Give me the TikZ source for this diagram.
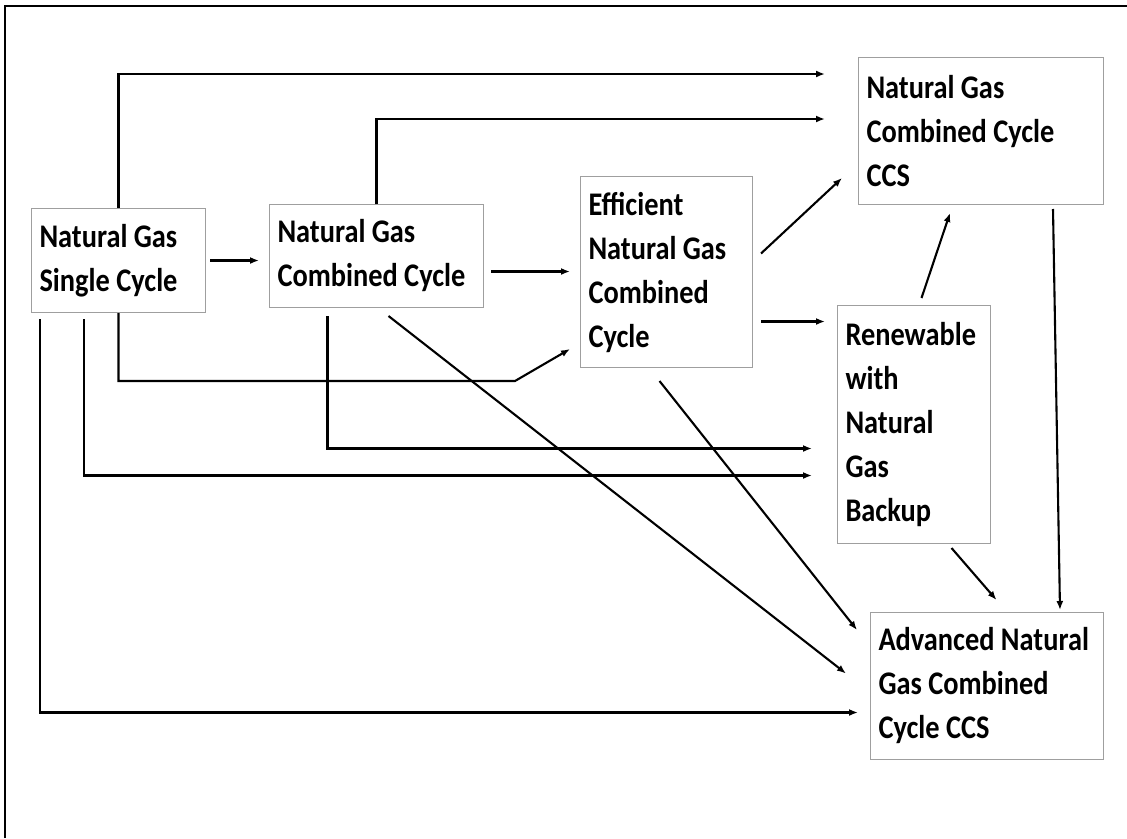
\documentclass[tikz,border=0pt]{standalone}
\usepackage{fontspec}
\setmainfont{Carlito}[FakeStretch=0.86]
\usetikzlibrary{arrows.meta,calc}
\tikzset{
	box/.style 2 args={draw=gray!75,line width=1pt,anchor=north west,text width=#1,minimum height=#2,inner xsep=8pt,inner ysep=0pt,align=flush left,font=\fontsize{33}{44}\selectfont\bfseries},
	arr/.style={-{Latex[length=9pt,width=7pt]},line width=2.1pt}
}
\begin{document}
\begin{tikzpicture}[x=1pt,y=-1pt]
	\useasboundingbox (0,0) rectangle (1127,838);
	\draw [line width=2.8pt] (5,838) -- (5,6) -- (1127,6);

	\node [box={158pt}{104pt}] (sc) at (31,208) {Natural Gas\\Single Cycle};
	\node [box={198pt}{103pt}] (ngcc) at (269,204) {Natural Gas\\Combined Cycle};
	\node [box={156pt}{191pt}] (eff) at (580,176) {Efficient\\Natural Gas\\Combined\\Cycle};
	\node [box={229pt}{147pt}] (ccs) at (858,57) {Natural Gas\\Combined Cycle\\CCS};
	\node [box={137pt}{238pt}] (rnw) at (837,305) {Renewable\\with\\Natural\\Gas\\Backup};
	\node [box={217pt}{147pt}] (adv) at (870,612) {Advanced Natural\\Gas Combined\\Cycle CCS};

	\draw [arr] (sc.north) |- ($(ccs.west)+(-33,-57)$);
	\draw [arr] (ngcc.north) |- ($(ccs.west)+(-33,-12)$);
	\draw [arr] ($(sc.east)+(4,0)$) -- ($(ngcc.west)+(-10,4.5)$);
	\draw [arr] ($(ngcc.east)+(7,15.5)$) -- ($(eff.west)+(-10,-0.5)$);
	\draw [arr] (sc.south) |- ($(eff.south west)+(-65,13)$) -- ($(eff.south west)+(-10,-19)$);
	\draw [arr] ($(sc.south west)+(53,6)$) |- ($(rnw.west)+(-25,51)$);
	\draw [arr] ($(sc.south west)+(9,6)$) |- ($(adv.west)+(-12,26.5)$);
	\draw [arr] ($(ngcc.south)+(-49,8)$) |- ($(rnw.west)+(-25,24)$);
	\draw [arr] ($(ngcc.south)+(12,8)$) -- ($(adv.west)+(-24,-12.5)$);
	\draw [arr] ($(eff.south)+(-7,13)$) -- ($(adv.north west)+(-13,18)$);
	\draw [arr] ($(eff.east)+(8,-18.5)$) -- ($(ccs.south west)+(-16,-27)$);
	\draw [arr] ($(eff.east)+(8,49.5)$) -- ($(rnw.west)+(-12,-103)$);
	\draw [arr] ($(rnw.north)+(7.5,-7)$) -- ($(ccs.south west)+(92,8)$);
	\draw [arr] ($(rnw.south)+(37.5,4)$) -- ($(adv.north)+(9.5,-12)$);
	\draw [arr] ($(ccs.south east)+(-51,4)$) -- ($(adv.north east)+(-44,-2)$);
\end{tikzpicture}
\end{document}
